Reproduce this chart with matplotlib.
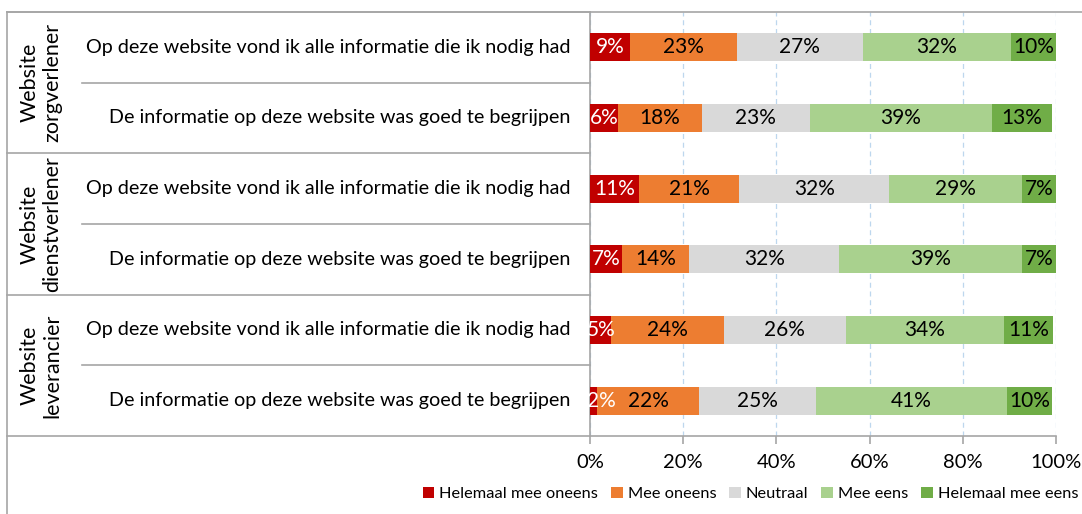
import numpy as np
import matplotlib.pyplot as plt
from matplotlib.patches import Patch
from matplotlib.lines import Line2D
from matplotlib.transforms import blended_transform_factory

plt.rcParams['font.family'] = ['Lato', 'DejaVu Sans']

# data
groepen = ['Website\nzorgverlener', 'Website\ndienstverlener', 'Website\nleverancier']
vragen = ['Op deze website vond ik alle informatie die ik nodig had',
          'De informatie op deze website was goed te begrijpen'] * 3
categorieen = ['Helemaal mee oneens', 'Mee oneens', 'Neutraal', 'Mee eens', 'Helemaal mee eens']
kleuren = ['#C00000', '#ED7D31', '#D9D9D9', '#A9D18E', '#70AD47']

helemaal_oneens = [8.6, 6.0, 10.6, 6.9, 4.6, 1.6]
oneens = [22.9, 18.0, 21.4, 14.4, 24.1, 21.8]
neutraal = [27.0, 23.2, 32.2, 32.2, 26.2, 25.1]
eens = [31.9, 39.0, 28.6, 39.3, 33.9, 41.0]
helemaal_eens = [9.6, 13.0, 7.1, 7.1, 10.6, 9.7]
reeksen = [helemaal_oneens, oneens, neutraal, eens, helemaal_eens]

W, H = 1082, 514
FS = 14.2
LINE = '#A6A6A6'

fig = plt.figure(figsize=(W / 100, H / 100), dpi=100)
ax = fig.add_axes([590 / W, 1 - 436 / H, 466 / W, 424 / H])

y = np.arange(len(vragen))
left = np.zeros(len(vragen))
for i, (vals, kleur) in enumerate(zip(reeksen, kleuren)):
    vals = np.array(vals)
    ax.barh(y, vals, left=left, height=0.4, color=kleur, edgecolor='none', zorder=3)
    for yy, l, v in zip(y, left, vals):
        # kleine labels niet buiten de plot laten vallen (zoals excel)
        xc = max(l + v / 2, 2.5)
        ax.text(xc, yy, f'{v:.0f}%', ha='center', va='center', fontsize=15,
                color='white' if i == 0 else 'black', zorder=4)
    left += vals

ax.set_xlim(0, 100)
ax.set_ylim(5.5, -0.5)
ax.set_xticks(range(0, 101, 20))
ax.set_xticklabels([f'{t}%' for t in range(0, 101, 20)])
ax.set_yticks([])
ax.xaxis.grid(True, color='#BDD7EE', linestyle=(0, (4, 3)), lw=0.9)
ax.set_axisbelow(True)
for s in ['top', 'right']:
    ax.spines[s].set_visible(False)
for s in ['left', 'bottom']:
    ax.spines[s].set_color(LINE)
    ax.spines[s].set_linewidth(1.2)
ax.tick_params(axis='x', direction='out', length=6, color=LINE, width=1.2,
               labelsize=14.5, pad=7)

# tabel-lijnen links
trans = blended_transform_factory(fig.transFigure, ax.transData)
for yy in [-0.5, 1.5, 3.5, 5.5]:
    fig.add_artist(Line2D([7 / W, 590 / W], [yy, yy], transform=trans, color=LINE, lw=1.2))
for yy in [0.5, 2.5, 4.5]:
    fig.add_artist(Line2D([82 / W, 590 / W], [yy, yy], transform=trans, color=LINE, lw=1.2))
fig.add_artist(Line2D([7 / W, 1.0], [-0.5, -0.5], transform=trans, color=LINE, lw=1.2))
fig.add_artist(Line2D([7 / W, 7 / W], [1 - 12 / H, 0], transform=fig.transFigure,
                      color=LINE, lw=1.2))

for i, vraag in enumerate(vragen):
    ax.text(570 / W, i, vraag, transform=trans, ha='right', va='center', fontsize=FS)
for g, groep in enumerate(groepen):
    ax.text(41 / W, 2 * g + 0.5, groep, transform=trans, rotation=90, ha='center',
            va='center', ma='center', fontsize=15.5, linespacing=1.15)

handles = [Patch(facecolor=k, edgecolor='none') for k in kleuren]
fig.legend(handles, categorieen, loc='center right', bbox_to_anchor=(1078 / W, 1 - 494 / H),
           ncol=5, frameon=False, handlelength=0.7, handleheight=0.7,
           handletextpad=0.3, columnspacing=0.8, fontsize=11.8,
           borderpad=0, borderaxespad=0)

fig.savefig('out.png', dpi=100)
